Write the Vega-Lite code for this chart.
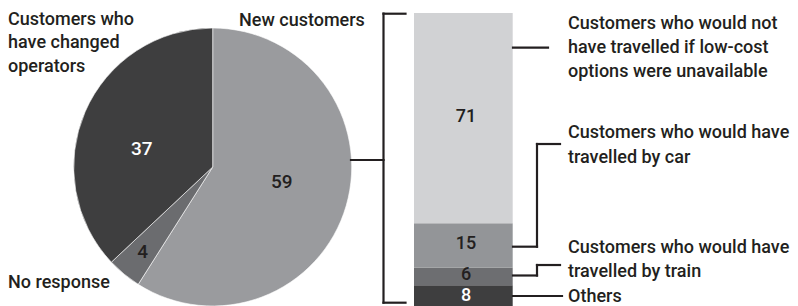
{
  "$schema": "https://vega.github.io/schema/vega-lite/v6.json",
  "width": 798,
  "height": 306,
  "padding": 0,
  "autosize": {"type": "none"},
  "background": "white",
  "config": {
    "view": {"stroke": null},
    "axis": {"disable": true},
    "legend": {"disable": true},
    "text": {"font": "Roboto", "fontSize": 18, "fontWeight": 500, "color": "#231f20"},
    "rule": {"color": "#231f20", "strokeWidth": 2.2, "strokeCap": "square"}
  },
  "datasets": {
    "pie": [
      {"category": "New customers", "label": "New customers", "value": 59, "rank": 1},
      {"category": "No response", "label": "No response", "value": 4, "rank": 2},
      {"category": "Customers who have changed operators", "label": "Customers who\nhave changed\noperators", "value": 37, "rank": 3}
    ],
    "bar": [
      {"category": "Others", "label": "Others", "value": 8, "rank": 1},
      {"category": "Customers who would have travelled by train", "label": "Customers who would have\ntravelled by train", "value": 6, "rank": 2},
      {"category": "Customers who would have travelled by car", "label": "Customers who would have\ntravelled by car", "value": 15, "rank": 3},
      {"category": "Customers who would not have travelled if low-cost options were unavailable", "label": "Customers who would not\nhave travelled if low-cost\noptions were unavailable", "value": 71, "rank": 4}
    ]
  },
  "data": {"values": [{}]},
  "layer": [
    {
      "data": {"name": "bar"},
      "transform": [{"stack": "value", "groupby": [], "sort": [{"field": "rank", "order": "ascending"}], "as": ["y0", "y1"]}],
      "mark": {"type": "rect"},
      "encoding": {
        "x": {"datum": 414, "type": "quantitative", "scale": {"domain": [0, 798], "nice": false, "zero": false}, "axis": null},
        "x2": {"datum": 512.7},
        "y": {"field": "y0", "type": "quantitative", "scale": {"domain": [1.0135, 104.392], "nice": false, "zero": false}, "axis": null},
        "y2": {"field": "y1"},
        "color": {
          "field": "category", "type": "nominal", "legend": null,
          "scale": {
            "domain": ["New customers", "No response", "Customers who have changed operators", "Customers who would not have travelled if low-cost options were unavailable", "Customers who would have travelled by car", "Customers who would have travelled by train", "Others"],
            "range": ["#9a9b9e", "#6b6c6f", "#3e3e3f", "#d1d2d4", "#939598", "#6d6e71", "#3e3e3f"]
          }
        }
      }
    },
    {
      "data": {"name": "pie"},
      "mark": {"type": "arc", "outerRadius": 139, "x": {"expr": "scale('x', 212.7)"}, "y": {"expr": "scale('y', 47.97)"}, "stroke": "#ffffff", "strokeWidth": 0.6},
      "encoding": {
        "theta": {"field": "value", "type": "quantitative", "stack": true},
        "order": {"field": "rank"},
        "color": {"field": "category", "type": "nominal", "legend": null}
      }
    },
    {
      "data": {"name": "pie"},
      "mark": {
        "type": "text", "align": "center", "baseline": "middle", "fontSize": 19,
        "x": {"expr": "scale('x', 212.7)"}, "y": {"expr": "scale('y', 47.97)"},
        "radius": {"expr": "datum.value < 10 ? 110 : 73"},
        "dx": {"expr": "datum.value == 37 ? -4 : (datum.value == 59 ? -1 : 0)"},
        "dy": {"expr": "datum.value == 37 ? 11 : (datum.value == 59 ? -5 : 0)"}
      },
      "encoding": {
        "theta": {"field": "value", "type": "quantitative", "stack": true},
        "order": {"field": "rank"},
        "detail": {"field": "category"},
        "text": {"field": "value"},
        "color": {"condition": {"test": "datum.category == 'Customers who have changed operators'", "value": "#ffffff"}, "value": "#231f20"}
      }
    },
    {
      "data": {"name": "bar"},
      "transform": [
        {"stack": "value", "groupby": [], "sort": [{"field": "rank", "order": "ascending"}], "as": ["y0", "y1"]},
        {"fold": ["y0", "y1"], "as": ["edge", "pos"]},
        {"aggregate": [{"op": "mean", "field": "pos", "as": "mid"}], "groupby": ["category", "value"]}
      ],
      "mark": {"type": "text", "align": "center", "baseline": "middle", "fontSize": 18, "dy": -1},
      "encoding": {
        "x": {"datum": 466, "type": "quantitative"},
        "y": {"field": "mid", "type": "quantitative"},
        "text": {"field": "value"},
        "color": {"condition": {"test": "datum.category == 'Others'", "value": "#ffffff"}, "value": "#231f20"}
      }
    },
    {
      "data": {"name": "pie"},
      "transform": [{"filter": "datum.category == 'Customers who have changed operators'"}],
      "mark": {"type": "text", "align": "left", "baseline": "top", "lineBreak": "\n", "lineHeight": 23.5},
      "encoding": {"x": {"datum": 8, "type": "quantitative"}, "y": {"datum": 100.68, "type": "quantitative"}, "text": {"field": "label"}}
    },
    {
      "data": {"name": "pie"},
      "transform": [{"filter": "datum.category == 'New customers'"}],
      "mark": {"type": "text", "align": "left", "baseline": "alphabetic"},
      "encoding": {"x": {"datum": 239, "type": "quantitative"}, "y": {"datum": 95.61, "type": "quantitative"}, "text": {"field": "label"}}
    },
    {
      "data": {"name": "pie"},
      "transform": [{"filter": "datum.category == 'No response'"}],
      "mark": {"type": "text", "align": "left", "baseline": "alphabetic"},
      "encoding": {"x": {"datum": 8, "type": "quantitative"}, "y": {"datum": 7.09, "type": "quantitative"}, "text": {"field": "label"}}
    },
    {
      "data": {"name": "bar"},
      "transform": [{"filter": "datum.rank == 4"}],
      "mark": {"type": "text", "align": "left", "baseline": "top", "lineBreak": "\n", "lineHeight": 24},
      "encoding": {"x": {"datum": 568, "type": "quantitative"}, "y": {"datum": 99.32, "type": "quantitative"}, "text": {"field": "label"}}
    },
    {
      "data": {"name": "bar"},
      "transform": [{"filter": "datum.rank == 3"}],
      "mark": {"type": "text", "align": "left", "baseline": "top", "lineBreak": "\n", "lineHeight": 24.5},
      "encoding": {"x": {"datum": 568, "type": "quantitative"}, "y": {"datum": 62.5, "type": "quantitative"}, "text": {"field": "label"}}
    },
    {
      "data": {"name": "bar"},
      "transform": [{"filter": "datum.rank == 2"}],
      "mark": {"type": "text", "align": "left", "baseline": "top", "lineBreak": "\n", "lineHeight": 24.5},
      "encoding": {"x": {"datum": 568, "type": "quantitative"}, "y": {"datum": 23.65, "type": "quantitative"}, "text": {"field": "label"}}
    },
    {
      "data": {"name": "bar"},
      "transform": [{"filter": "datum.rank == 1"}],
      "mark": {"type": "text", "align": "left", "baseline": "alphabetic"},
      "encoding": {"x": {"datum": 568, "type": "quantitative"}, "y": {"datum": 2.2, "type": "quantitative"}, "text": {"field": "label"}}
    },
    {"mark": "rule", "encoding": {"x": {"datum": 351, "type": "quantitative"}, "x2": {"datum": 383.5}, "y": {"datum": 50.34, "type": "quantitative"}}},
    {"mark": "rule", "encoding": {"x": {"datum": 383.5, "type": "quantitative"}, "y": {"datum": 2.13, "type": "quantitative"}, "y2": {"datum": 99.76}}},
    {"mark": "rule", "encoding": {"x": {"datum": 383.5, "type": "quantitative"}, "x2": {"datum": 405.5}, "y": {"datum": 99.76, "type": "quantitative"}}},
    {"mark": "rule", "encoding": {"x": {"datum": 383.5, "type": "quantitative"}, "x2": {"datum": 405.5}, "y": {"datum": 2.13, "type": "quantitative"}}},
    {"mark": "rule", "encoding": {"x": {"datum": 513, "type": "quantitative"}, "x2": {"datum": 548}, "y": {"datum": 88.28, "type": "quantitative"}}},
    {"mark": "rule", "encoding": {"x": {"datum": 513, "type": "quantitative"}, "x2": {"datum": 537}, "y": {"datum": 21.05, "type": "quantitative"}}},
    {"mark": "rule", "encoding": {"x": {"datum": 537, "type": "quantitative"}, "y": {"datum": 21.05, "type": "quantitative"}, "y2": {"datum": 55.74}}},
    {"mark": "rule", "encoding": {"x": {"datum": 537, "type": "quantitative"}, "x2": {"datum": 560}, "y": {"datum": 55.74, "type": "quantitative"}}},
    {"mark": "rule", "encoding": {"x": {"datum": 513, "type": "quantitative"}, "x2": {"datum": 537}, "y": {"datum": 11.32, "type": "quantitative"}}},
    {"mark": "rule", "encoding": {"x": {"datum": 537, "type": "quantitative"}, "y": {"datum": 11.32, "type": "quantitative"}, "y2": {"datum": 14.86}}},
    {"mark": "rule", "encoding": {"x": {"datum": 537, "type": "quantitative"}, "x2": {"datum": 560}, "y": {"datum": 14.86, "type": "quantitative"}}},
    {"mark": "rule", "encoding": {"x": {"datum": 513, "type": "quantitative"}, "x2": {"datum": 562}, "y": {"datum": 4.39, "type": "quantitative"}}}
  ]
}
